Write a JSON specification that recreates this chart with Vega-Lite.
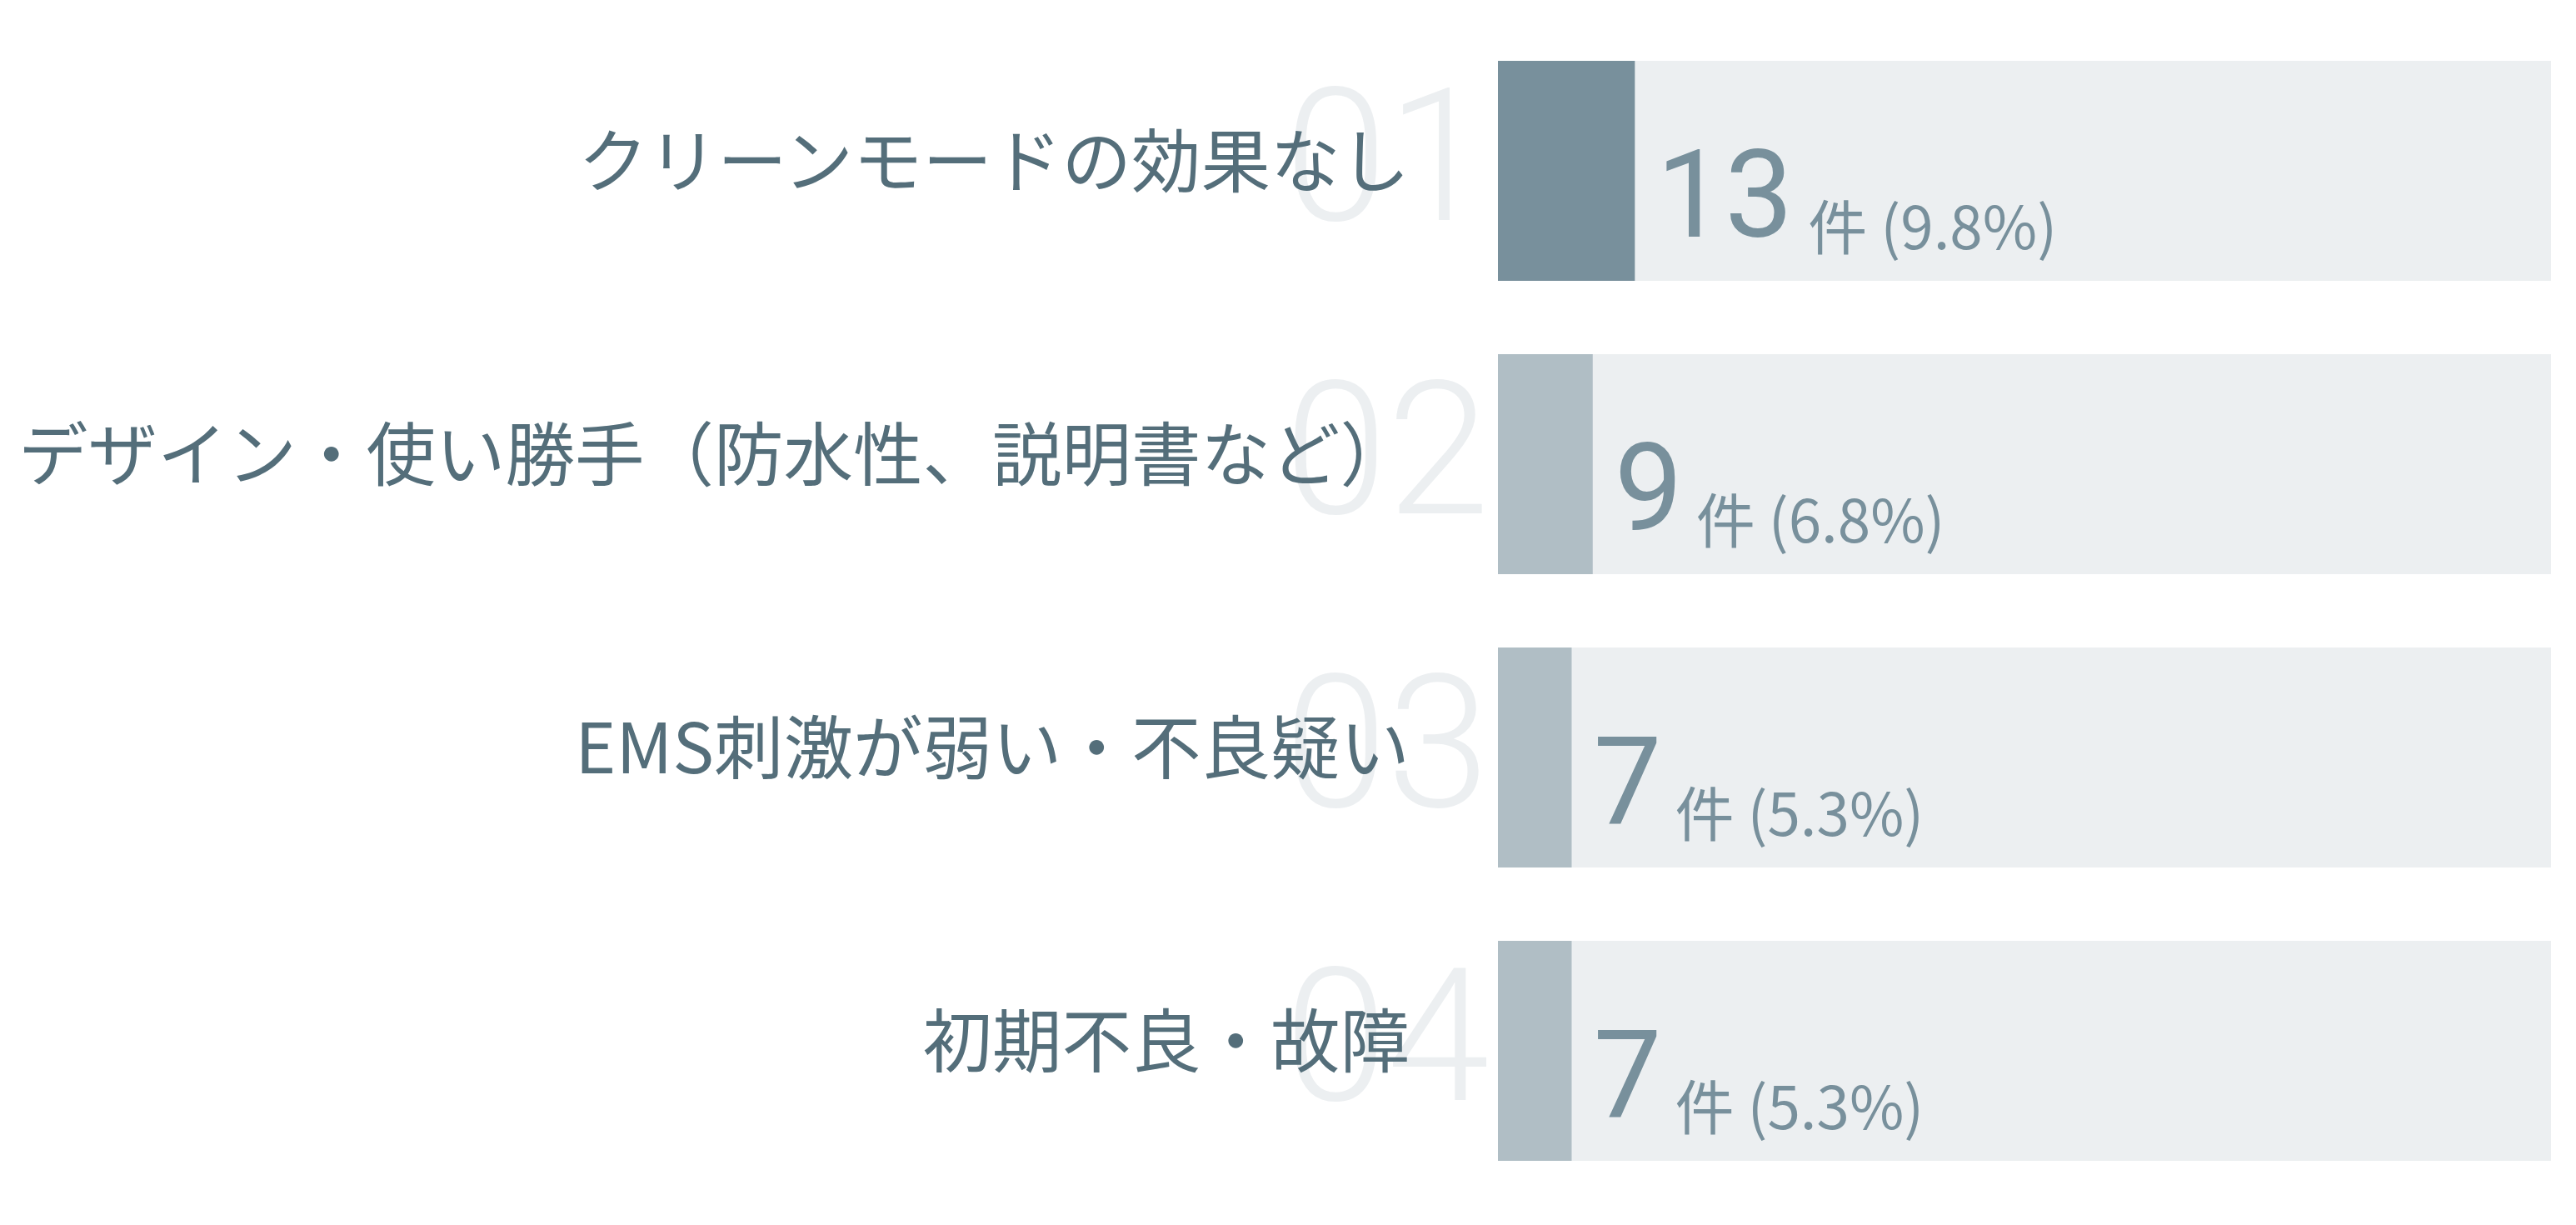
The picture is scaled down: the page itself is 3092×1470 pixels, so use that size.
{
  "$schema": "https://vega.github.io/schema/vega-lite/v6.json",
  "width": 1264,
  "height": 1408,
  "autosize": {"type": "none"},
  "padding": {"left": 1798, "top": 29, "right": 30, "bottom": 33},
  "background": "white",
  "config": {"view": {"stroke": null}},
  "data": {
    "values": [
      {"rank": 1, "rank_label": "01", "reason": "クリーンモードの効果なし", "count": 13, "detail": "件 (9.8%)"},
      {"rank": 2, "rank_label": "02", "reason": "デザイン・使い勝手（防水性、説明書など）", "count": 9, "detail": "件 (6.8%)"},
      {"rank": 3, "rank_label": "03", "reason": "EMS刺激が弱い・不良疑い", "count": 7, "detail": "件 (5.3%)"},
      {"rank": 4, "rank_label": "04", "reason": "初期不良・故障", "count": 7, "detail": "件 (5.3%)"}
    ]
  },
  "encoding": {
    "y": {
      "field": "reason",
      "type": "nominal",
      "sort": null,
      "scale": {"paddingInner": 0.25, "paddingOuter": 0.125},
      "axis": null
    }
  },
  "layer": [
    {
      "mark": {"type": "bar", "color": "#eceff1"},
      "encoding": {
        "x": {"datum": 100, "type": "quantitative", "scale": {"domain": [0, 100]}, "axis": null}
      }
    },
    {
      "mark": {"type": "bar"},
      "encoding": {
        "x": {"field": "count", "type": "quantitative"},
        "color": {"condition": {"test": "datum.rank == 1", "value": "#78909c"}, "value": "#b0bec5"}
      }
    },
    {
      "mark": {"type": "text", "align": "right", "baseline": "alphabetic", "dx": -10, "dy": 59, "fontSize": 222, "font": "Roboto", "fontWeight": 300, "color": "#eceff1"},
      "encoding": {
        "x": {"datum": 0, "type": "quantitative"},
        "text": {"field": "rank_label"}
      }
    },
    {
      "mark": {"type": "text", "align": "right", "baseline": "middle", "dx": -106, "dy": -6, "fontSize": 83.5, "font": "Noto Sans CJK JP", "color": "#546e7a"},
      "encoding": {
        "x": {"datum": 0, "type": "quantitative"},
        "text": {"field": "reason"}
      }
    },
    {
      "mark": {"type": "text", "align": "left", "baseline": "alphabetic", "dx": 26, "dy": 79, "fontSize": 146, "font": "Roboto", "color": "#78909c"},
      "encoding": {
        "x": {"field": "count", "type": "quantitative"},
        "text": {"field": "count"}
      }
    },
    {
      "transform": [{"filter": "datum.count >= 10"}],
      "mark": {"type": "text", "align": "left", "baseline": "alphabetic", "dx": 208, "dy": 94, "fontSize": 71, "font": "Noto Sans CJK JP", "color": "#78909c"},
      "encoding": {
        "x": {"field": "count", "type": "quantitative"},
        "text": {"field": "detail"}
      }
    },
    {
      "transform": [{"filter": "datum.count < 10"}],
      "mark": {"type": "text", "align": "left", "baseline": "alphabetic", "dx": 124, "dy": 94, "fontSize": 71, "font": "Noto Sans CJK JP", "color": "#78909c"},
      "encoding": {
        "x": {"field": "count", "type": "quantitative"},
        "text": {"field": "detail"}
      }
    }
  ]
}
